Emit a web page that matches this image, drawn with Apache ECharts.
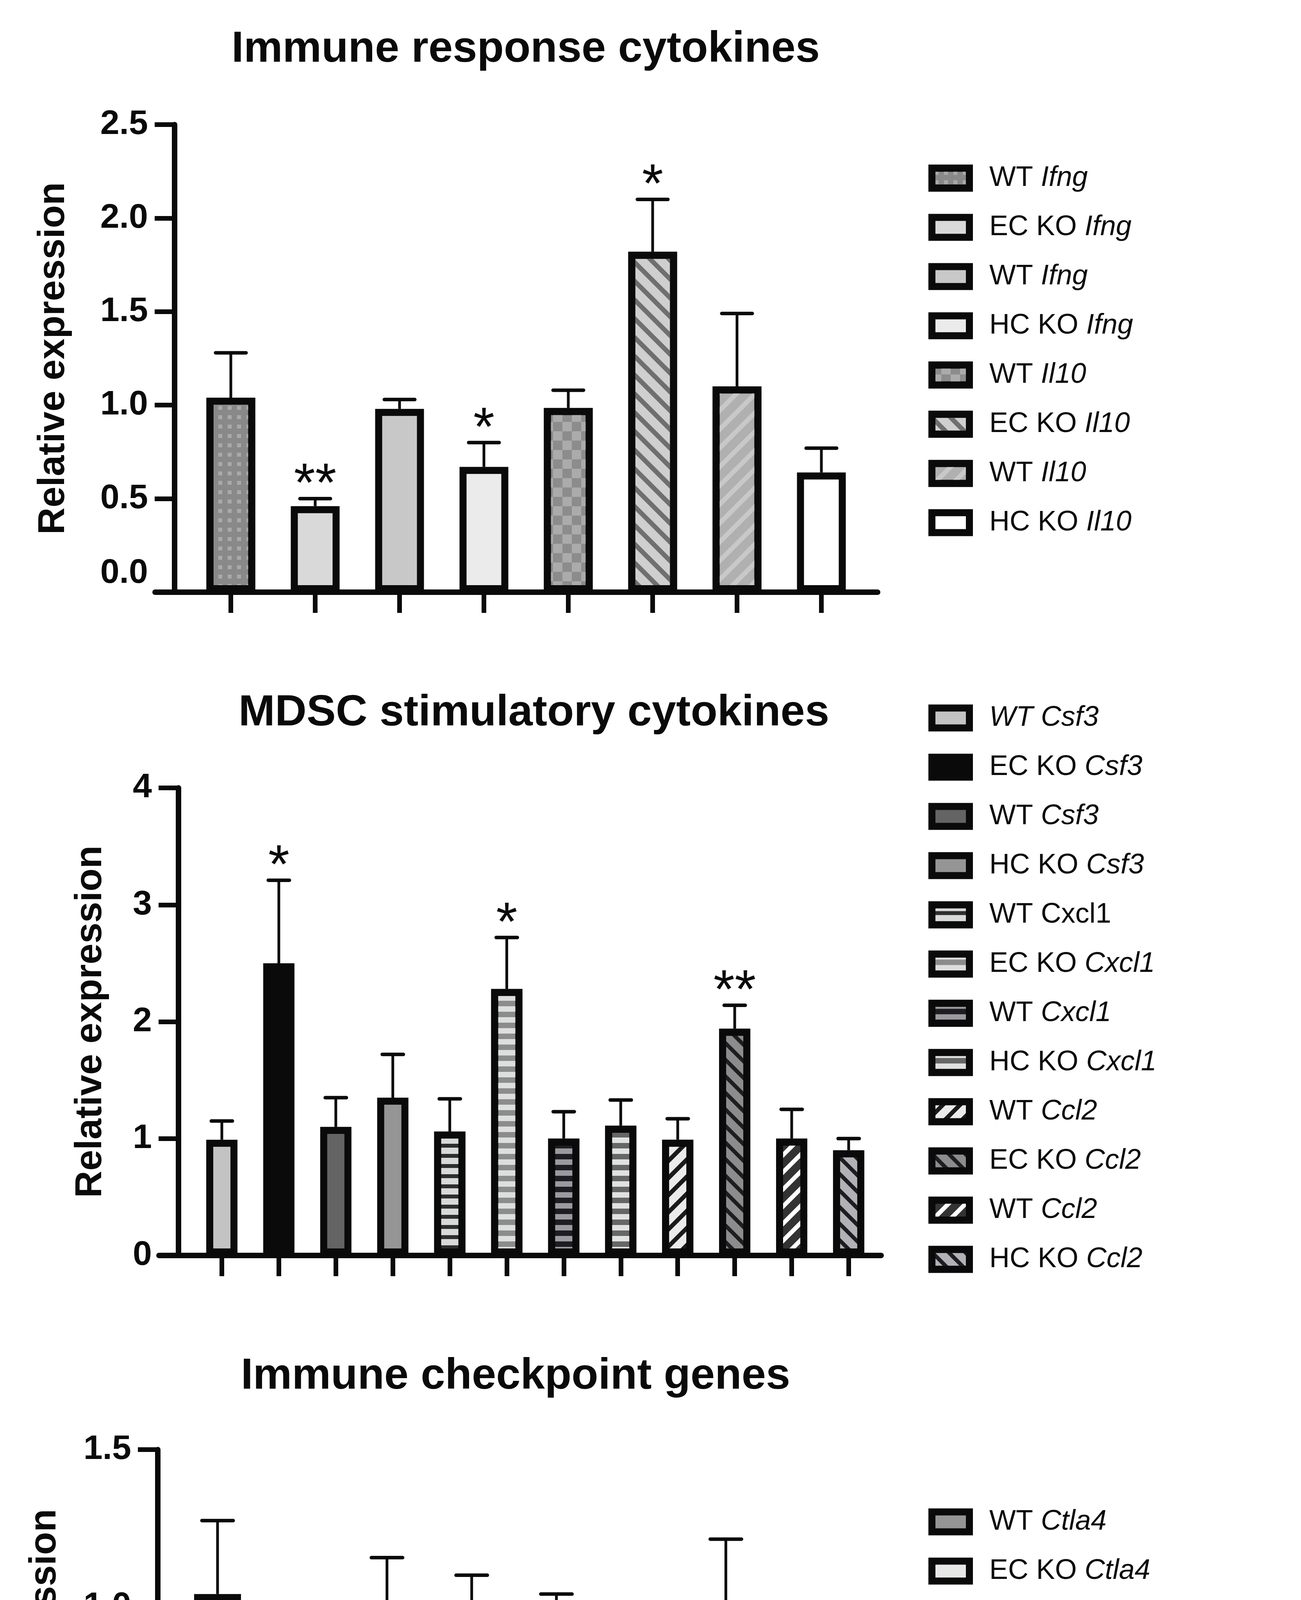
<!DOCTYPE html>
<html><head><meta charset="utf-8">
<script src="https://cdn.jsdelivr.net/npm/echarts@6/dist/echarts.min.js"></script>
<style>html,body{margin:0;padding:0;background:#fff}#c{width:3331px;height:6596px}</style>
</head><body><div id="c"></div>
<script>
// ---------------- DATA ----------------
const panelTitles = ['Immune response cytokines', 'MDSC stimulatory cytokines', 'Immune checkpoint genes', 'Th2 genes'];
const yAxisTitle = 'Relative expression';
const yMax = [2.5, 4, 1.5, 4];
const yStep = [0.5, 1, 0.5, 1];

// Panel 1: Immune response cytokines
const p1Labels = ['{n|WT }{i|Ifng}', '{n|EC KO }{i|Ifng}', '{n|WT }{i|Ifng}', '{n|HC KO }{i|Ifng}',
                  '{n|WT }{i|Il10}', '{n|EC KO }{i|Il10}', '{n|WT }{i|Il10}', '{n|HC KO }{i|Il10}'];
const p1Means  = [1.04, 0.46, 0.98, 0.67, 0.985, 1.82, 1.10, 0.64];
const p1Errors = [0.24, 0.04, 0.05, 0.13, 0.095, 0.28, 0.39, 0.13];
const p1Stars  = ['', '**', '', '*', '', '*', '', ''];

// Panel 2: MDSC stimulatory cytokines
const p2Labels = ['{i|WT Csf3}', '{n|EC KO }{i|Csf3}', '{n|WT }{i|Csf3}', '{n|HC KO }{i|Csf3}',
                  '{n|WT Cxcl1}', '{n|EC KO }{i|Cxcl1}', '{n|WT }{i|Cxcl1}', '{n|HC KO }{i|Cxcl1}',
                  '{n|WT }{i|Ccl2}', '{n|EC KO }{i|Ccl2}', '{n|WT }{i|Ccl2}', '{n|HC KO }{i|Ccl2}'];
const p2Means  = [0.99, 2.50, 1.10, 1.35, 1.06, 2.28, 1.00, 1.11, 0.99, 1.94, 1.00, 0.90];
const p2Errors = [0.16, 0.71, 0.25, 0.37, 0.28, 0.44, 0.23, 0.22, 0.18, 0.20, 0.25, 0.10];
const p2Stars  = ['', '*', '', '', '', '*', '', '', '', '**', '', ''];

// Panel 3: Immune checkpoint genes
const p3Labels = ['{n|WT }{i|Ctla4}', '{n|EC KO }{i|Ctla4}', '{n|WT }{i|Ctla4}', '{n|HC KO }{i|Ctla4}',
                  '{n|WT }{i|Cd274}{n| (PD-L1)}', '{n|EC KO }{i|Cd274}{n| (PD-L1)}', '{n|WT Cd274 (PD-L1)}', '{n|HC KO }{i|Cd274 (}{n|PD-L1)}'];
const p3Means  = [1.04, 0.505, 1.00, 0.80, 0.985, 0.745, 1.015, 0.775];
const p3Errors = [0.234, 0.17, 0.156, 0.30, 0.055, 0.08, 0.20, 0.22];
const p3Stars  = ['', '*', '', '', '', '*', '', ''];

// Panel 4: Th2 genes
const p4Labels = ['{n|WT }{i|Gata3}', '{n|EC KO }{i|Gata3}', '{n|WT }{i|Gata3}', '{n|HC KO }{i|Gata3}',
                  '{n|WT }{i|Il5}', '{n|EC KO }{i|Il5}', '{n|WT }{i|Il5}', '{n|HC KO }{i|Il5}',
                  '{n|WT }{i|Il13}', '{n|EC KO }{i|Il13}', '{n|WT }{i|Il13}', '{n|HC KO }{i|Il13}'];
const p4Means  = [1.034, 0.39, 0.99, 0.84, 1.11, 0.155, 1.06, 3.08, 1.01, 0.11, 1.005, 0.73];
const p4Errors = [0.30, 0.076, 0.264, 0.258, 0.358, 0.073, 0.364, 0.658, 0.23, 0.07, 0.31, 0.242];
const p4Stars  = ['', '**', '', '', '', '**', '', '*', '', '***', '', ''];

// ---------------- STYLES ----------------
const Q = Math.PI / 4;
function hstripe(base, stripe, a, b) { return {color: base, decal: {symbol: 'rect', symbolSize: 1, color: stripe, dashArrayX: [1, 0], dashArrayY: [a, b], rotation: 0}}; }
function dstripe(base, stripe, a, b, rot) { return {color: base, decal: {symbol: 'rect', symbolSize: 1, color: stripe, dashArrayX: [1, 0], dashArrayY: [a, b], rotation: rot}}; }
function gridPat(line, cell, cx, gx, cy, gy) { return {color: line, decal: {symbol: 'rect', symbolSize: 1, color: cell, dashArrayX: [cx, gx], dashArrayY: [cy, gy]}}; }
function solid(c) { return {color: c}; }

const p1Styles = [
  {color: '#898989', decal: {symbol: 'rect', symbolSize: 0.42, color: '#a9a9a9', dashArrayX: [24, 0], dashArrayY: [24, 0]}},
  solid('#d9d9d9'), solid('#c8c8c8'), solid('#ebebeb'),
  {color: '#8c8c8c', decal: {symbol: 'rect', symbolSize: 1, color: '#ababab', dashArrayX: [[24, 24], [0, 24, 24, 0]], dashArrayY: [24, 0]}},
  dstripe('#cfcfcf', '#6f6f6f', 12, 22, Q),
  dstripe('#b0b0b0', '#c8c8c8', 12, 22, -Q),
  solid('#ffffff')
];
const p2Styles = [
  solid('#c3c3c3'), solid('#0a0a0a'), solid('#646464'), solid('#959595'),
  hstripe('#2e2e2e', '#d7dad8', 16, 10),
  hstripe('#8c8c8c', '#dcdfdd', 14, 14),
  hstripe('#1e1e22', '#9a9aa0', 14, 14),
  hstripe('#666666', '#e0e2e1', 14, 14),
  dstripe('#1a1a1a', '#ebebeb', 20, 11, -Q),
  dstripe('#8c8c8c', '#1e1e22', 10, 20, Q),
  dstripe('#333333', '#ffffff', 11, 20, -Q),
  dstripe('#b2b2b6', '#1e1e22', 10, 20, Q)
];
const p3Styles = ['#959595', '#e6e8e6', '#747474', '#b1b1b1', '#4d4e4c', '#ffffff', '#c8c8ca', '#0a0a0a'].map(solid);
const p4Styles = [
  hstripe('#1e1e22', '#9d9da1', 29, 19),
  hstripe('#808080', '#ffffff', 20, 28),
  hstripe('#2d2d2d', '#d9d9d9', 29, 19),
  hstripe('#2d2d2d', '#e0e0e0', 20, 28),
  gridPat('#a8a8a8', '#bfbfbf', 34, 9, 39, 9),
  gridPat('#dcdcdc', '#636363', 30, 6, 36, 8),
  gridPat('#1e1e1e', '#e8e8e8', 28, 10, 38, 10),
  gridPat('#a0a0a0', '#3a3a3a', 30, 8, 38, 10),
  solid('#0a0a0a'), solid('#b2b2b2'), solid('#959595'), solid('#ffffff')
];

// ---------------- LAYOUT ----------------
const layout = [
  {axisX: 447, lineR: 2247, c0: 591, step: 216,   top: 319,  bottom: 1516, barW: 125, cap: 39, nameGap: 261, titleX: 1346, titleY: 127,  legendC: 456,  dec: 1, zeroUp: true},
  {axisX: 457, lineR: 2256, c0: 568, step: 145.9, top: 2017, bottom: 3214, barW: 80,  cap: 27, nameGap: 176, titleX: 1367, titleY: 1826, legendC: 1838, dec: 0},
  {axisX: 404, lineR: 2213, c0: 557, step: 216.9, top: 3711, bottom: 4917, barW: 120, cap: 40, nameGap: 240, titleX: 1320, titleY: 3524, legendC: 3896, dec: 1},
  {axisX: 426, lineR: 2230, c0: 521, step: 146.3, top: 5329, bottom: 6530, barW: 85,  cap: 28, nameGap: 177, titleX: 1335, titleY: 5143, legendC: 5146, dec: 0}
];
const LEG_FONT = 72;

const panels = [
  {labels: p1Labels, means: p1Means, errors: p1Errors, stars: p1Stars, styles: p1Styles},
  {labels: p2Labels, means: p2Means, errors: p2Errors, stars: p2Stars, styles: p2Styles},
  {labels: p3Labels, means: p3Means, errors: p3Errors, stars: p3Stars, styles: p3Styles},
  {labels: p4Labels, means: p4Means, errors: p4Errors, stars: p4Stars, styles: p4Styles}
];

const FONT = 'Liberation Sans';
const INK = '#0a0a0a';
const labelMap = {};
const grids = [], xAxes = [], yAxes = [], series = [], legends = [], graphics = [];

panels.forEach((p, k) => {
  const L = layout[k];
  const left = L.axisX - 50;
  grids.push({left: left, top: L.top, width: L.lineR - left, height: L.bottom - L.top, containLabel: false, outerBoundsMode: 'none'});
  const idx = p.means.map((_, i) => i);
  xAxes.push({
    type: 'value', gridIndex: k,
    min: (left - L.c0) / L.step, max: (L.lineR - L.c0) / L.step,
    axisLine: {show: true, onZero: false, lineStyle: {color: INK, width: 14}},
    axisTick: {show: true, customValues: idx, length: 53, lineStyle: {color: INK, width: 12}},
    axisLabel: {show: false}, splitLine: {show: false}
  });
  yAxes.push({
    type: 'value', gridIndex: k, min: 0, max: yMax[k], interval: yStep[k], offset: -(L.axisX - left),
    axisLine: {show: true, onZero: false, lineStyle: {color: INK, width: 14}},
    axisTick: {show: true, length: 51, lineStyle: {color: INK, width: 12}},
    splitLine: {show: false},
    axisLabel: {
      color: INK, fontFamily: FONT, fontSize: 88, fontWeight: 'bold', margin: 68,
      formatter: (v) => {
        const s = v.toFixed(L.dec);
        return (L.zeroUp && v === 0) ? '{z|' + s + '}' : s;
      },
      rich: {z: {fontFamily: FONT, fontSize: 88, fontWeight: 'bold', color: INK, padding: [0, 0, 96, 0]}}
    },
    name: yAxisTitle, nameLocation: 'middle', nameGap: L.nameGap,
    nameTextStyle: {color: INK, fontFamily: FONT, fontSize: 96, fontWeight: 'bold'}
  });
  const names = [];
  p.means.forEach((m, i) => {
    const key = 'p' + k + '_' + i;
    names.push(key);
    labelMap[key] = p.labels[i];
    const st = p.styles[i];
    const itemStyle = {color: st.color, borderColor: INK, borderWidth: 18};
    if (st.decal) itemStyle.decal = st.decal;
    series.push({
      type: 'bar', name: key, xAxisIndex: k, yAxisIndex: k,
      data: [[i, m]], barWidth: L.barW, barGap: '-100%',
      itemStyle: itemStyle, emphasis: {disabled: true}, z: 2
    });
  });
  const stars = p.stars, cap = L.cap;
  series.push({
    type: 'custom', xAxisIndex: k, yAxisIndex: k, z: 5,
    data: p.means.map((m, i) => [i, m, p.errors[i]]),
    renderItem: (params, api) => {
      const x = api.value(0), m = api.value(1), e = api.value(2);
      const p0 = api.coord([x, m]);
      const p1 = api.coord([x, m + e]);
      const ch = [
        {type: 'line', shape: {x1: p0[0], y1: p0[1], x2: p1[0], y2: p1[1]}, style: {stroke: INK, lineWidth: 7}},
        {type: 'line', shape: {x1: p1[0] - cap, y1: p1[1], x2: p1[0] + cap, y2: p1[1]}, style: {stroke: INK, lineWidth: 9, lineCap: 'round'}}
      ];
      const s = stars[params.dataIndex];
      if (s) ch.push({type: 'text', x: p1[0], y: p1[1] - 32,
        style: {text: s, fill: INK, font: '140px "' + FONT + '"', align: 'center', verticalAlign: 'middle', textAlign: 'center', textVerticalAlign: 'middle'}});
      return {type: 'group', children: ch};
    }
  });
  legends.push({
    orient: 'vertical', left: 2377, top: L.legendC - LEG_FONT / 2, padding: 0, itemGap: 126 - LEG_FONT,
    itemWidth: 96, itemHeight: 51, icon: 'rect', selectedMode: false, data: names,
    itemStyle: {borderColor: INK, borderWidth: 18},
    formatter: (name) => labelMap[name],
    textStyle: {
      color: INK, fontFamily: FONT, fontSize: LEG_FONT, lineHeight: LEG_FONT, padding: [0, 0, 0, 46],
      rich: {
        n: {color: INK, fontFamily: FONT, fontSize: LEG_FONT, lineHeight: LEG_FONT},
        i: {color: INK, fontFamily: FONT, fontSize: LEG_FONT, lineHeight: LEG_FONT, fontStyle: 'italic'}
      }
    }
  });
  graphics.push({
    type: 'text', x: L.titleX, y: L.titleY, silent: true,
    style: {text: panelTitles[k], fill: INK, font: 'bold 112px "' + FONT + '"', align: 'center', verticalAlign: 'middle', textAlign: 'center', textVerticalAlign: 'middle'}
  });
});

const chart = echarts.init(document.getElementById('c'), null, {renderer: 'canvas', width: 3331, height: 6596});
chart.setOption({
  backgroundColor: '#ffffff',
  animation: false,
  grid: grids, xAxis: xAxes, yAxis: yAxes, series: series, legend: legends, graphic: graphics
});
</script></body></html>
